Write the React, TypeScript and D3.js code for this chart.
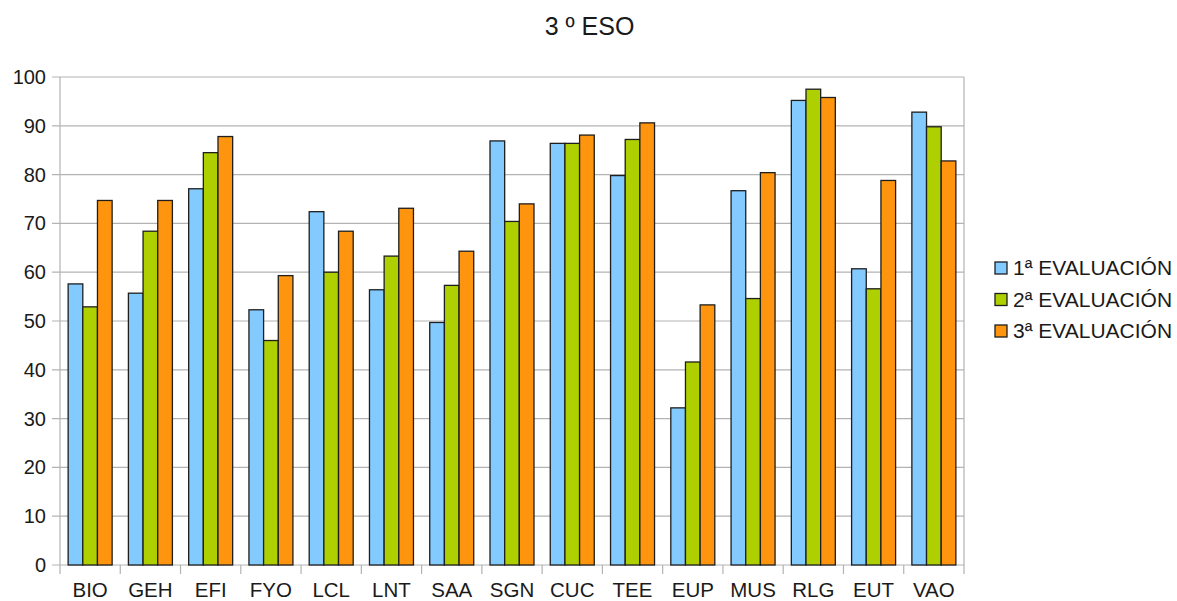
import * as React from "react";
import * as d3 from "d3";

const title = "3 º ESO";
const categories = ["BIO", "GEH", "EFI", "FYO", "LCL", "LNT", "SAA", "SGN", "CUC", "TEE", "EUP", "MUS", "RLG", "EUT", "VAO"];
const seriesNames = ["1ª EVALUACIÓN", "2ª EVALUACIÓN", "3ª EVALUACIÓN"];
const eval1 = [57.6, 55.7, 77.1, 52.3, 72.4, 56.4, 49.7, 86.9, 86.4, 79.8, 32.2, 76.7, 95.2, 60.7, 92.8];
const eval2 = [52.9, 68.4, 84.5, 46.0, 60.0, 63.3, 57.3, 70.4, 86.4, 87.2, 41.6, 54.6, 97.5, 56.6, 89.8];
const eval3 = [74.7, 74.7, 87.8, 59.3, 68.4, 73.1, 64.3, 74.0, 88.1, 90.6, 53.3, 80.4, 95.8, 78.8, 82.8];
const yTicks = [0, 10, 20, 30, 40, 50, 60, 70, 80, 90, 100];
const colors = ["#83caff", "#aecf00", "#ff950e"];

export default function App() {
    const width = 1177;
    const height = 601;

    // plot area
    const left = 60, right = 964, top = 77, bottom = 565;

    const values = [eval1, eval2, eval3];

    const x0 = d3.scaleBand<string>().domain(categories).range([left, right]).paddingInner(0.27).paddingOuter(0.135);
    const x1 = d3.scaleBand<number>().domain([0, 1, 2]).range([0, x0.bandwidth()]);
    const y = d3.scaleLinear().domain([0, 100]).range([bottom, top]);

    const step = x0.step();
    const font = "'Liberation Sans', Arial, sans-serif";
    const textColor = "#1a1a1a";
    const gridColor = "#b3b3b3";

    return (
        <div style={{ position: "fixed", left: 0, top: 0 }}>
            <svg width={width} height={height} style={{ display: "block", background: "#fff" }}>
                <text x={width / 2 + 1} y={35} textAnchor="middle" fontFamily={font} fontSize={25} fill={textColor}>{title}</text>

                {/* grid */}
                {yTicks.map(t => (
                    <g key={t}>
                        <line x1={left - 8} x2={right} y1={y(t)} y2={y(t)} stroke={gridColor} strokeWidth={1.2} />
                        <text x={46} y={y(t) + 7} textAnchor="end" fontFamily={font} fontSize={20} fill={textColor}>{t}</text>
                    </g>
                ))}
                <line x1={left} x2={left} y1={top} y2={bottom + 9} stroke={gridColor} strokeWidth={1.2} />
                <line x1={right} x2={right} y1={top} y2={bottom + 9} stroke={gridColor} strokeWidth={1.2} />
                {categories.slice(1).map((c, i) => (
                    <line key={c} x1={left + step * (i + 1)} x2={left + step * (i + 1)} y1={bottom} y2={bottom + 9} stroke={gridColor} strokeWidth={1.2} />
                ))}

                {/* bars */}
                {categories.map((c, i) => (
                    <g key={c} transform={`translate(${x0(c)},0)`}>
                        {values.map((s, j) => (
                            <rect key={j} x={x1(j)} y={y(s[i])} width={x1.bandwidth()} height={bottom - y(s[i])}
                                fill={colors[j]} stroke="#1e1e1e" strokeWidth={1.3} />
                        ))}
                    </g>
                ))}

                {/* x labels */}
                {categories.map(c => (
                    <text key={c} x={(x0(c) as number) + x0.bandwidth() / 2} y={596.5} textAnchor="middle" fontFamily={font} fontSize={20.5} fill={textColor}>{c}</text>
                ))}

                {/* legend */}
                {seriesNames.map((n, j) => (
                    <g key={n} transform={`translate(995, ${262 + j * 31.5})`}>
                        <rect x={0} y={0} width={12} height={12} fill={colors[j]} stroke="#1e1e1e" strokeWidth={1.3} />
                        <text x={18} y={13} fontFamily={font} fontSize={21} fill={textColor}>{n}</text>
                    </g>
                ))}
            </svg>
        </div>
    );
}
